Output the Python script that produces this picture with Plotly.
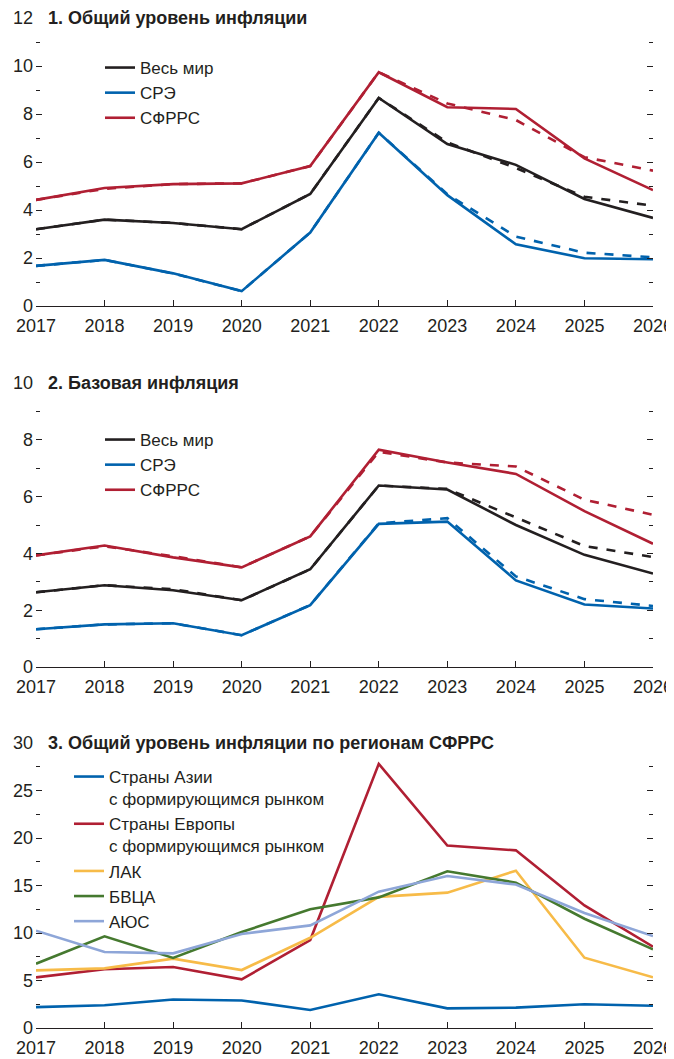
import plotly.graph_objects as go

years = list(range(2017, 2027))

# Panel 1: headline inflation
p1_world = [3.2, 3.6, 3.46, 3.2, 4.67, 8.67, 6.75, 5.88, 4.46, 3.67]
p1_world_prev = [3.2, 3.6, 3.46, 3.2, 4.67, 8.67, 6.82, 5.75, 4.55, 4.18]
p1_ae = [1.67, 1.92, 1.36, 0.62, 3.06, 7.22, 4.62, 2.57, 1.99, 1.95]
p1_ae_prev = [1.67, 1.92, 1.36, 0.62, 3.06, 7.22, 4.66, 2.89, 2.22, 2.03]
p1_em = [4.42, 4.92, 5.08, 5.11, 5.83, 9.74, 8.28, 8.21, 6.15, 4.83]
p1_em_prev = [4.42, 4.88, 5.08, 5.11, 5.83, 9.74, 8.44, 7.75, 6.2, 5.64]

# Panel 2: core inflation
p2_world = [2.63, 2.88, 2.70, 2.35, 3.44, 6.39, 6.25, 5.0, 3.95, 3.29]
p2_world_prev = [2.63, 2.88, 2.74, 2.35, 3.44, 6.39, 6.27, 5.27, 4.26, 3.87]
p2_ae = [1.33, 1.5, 1.54, 1.12, 2.18, 5.04, 5.12, 3.05, 2.2, 2.06]
p2_ae_prev = [1.33, 1.5, 1.54, 1.12, 2.18, 5.06, 5.24, 3.19, 2.39, 2.15]
p2_em = [3.93, 4.28, 3.86, 3.51, 4.6, 7.65, 7.2, 6.8, 5.49, 4.34]
p2_em_prev = [3.93, 4.25, 3.9, 3.51, 4.6, 7.58, 7.2, 7.06, 5.89, 5.36]

# Panel 3: headline inflation by EMDE region
p3_asia = [2.2, 2.4, 3.0, 2.9, 1.9, 3.55, 2.07, 2.14, 2.5, 2.35]
p3_europe = [5.33, 6.18, 6.42, 5.12, 9.26, 27.8, 19.2, 18.7, 12.9, 8.56]
p3_lac = [6.07, 6.28, 7.3, 6.1, 9.5, 13.8, 14.25, 16.56, 7.4, 5.33]
p3_mena = [6.77, 9.65, 7.37, 10.1, 12.5, 13.75, 16.5, 15.3, 11.5, 8.28]
p3_ssa = [10.25, 8.0, 7.86, 9.9, 10.8, 14.35, 16.0, 15.1, 12.1, 9.68]

titles = ["1. Общий уровень инфляции", "2. Базовая инфляция",
          "3. Общий уровень инфляции по регионам СФРРС"]
names_123 = ["Весь мир", "СРЭ", "СФРРС"]
names_3 = ["Страны Азии<br>с формирующимся рынком",
           "Страны Европы<br>с формирующимся рынком", "ЛАК", "БВЦА", "АЮС"]

BLACK = "#231f20"
BLUE = "#0062ad"
RED = "#b01f33"
YELLOW = "#f7bb48"
GREEN = "#45792f"
LBLUE = "#8ea6d8"
FONT = "Liberation Sans Narrow, Arial Narrow, Liberation Sans, Arial, sans-serif"
LW = 2.6

fig = go.Figure()

def add_panel(idx, series, prevs, names, colors, legend):
    xa = "x" if idx == 1 else f"x{idx}"
    ya = "y" if idx == 1 else f"y{idx}"
    if prevs:
        for p, c in zip(prevs, colors):
            fig.add_trace(go.Scatter(x=years, y=p, mode="lines", xaxis=xa, yaxis=ya,
                                     line=dict(color=c, width=LW, dash="dash"),
                                     showlegend=False, hoverinfo="skip"))
    for s, c, n in zip(series, colors, names):
        fig.add_trace(go.Scatter(x=years, y=s, mode="lines", xaxis=xa, yaxis=ya,
                                 name=n, line=dict(color=c, width=LW),
                                 legend=legend))

add_panel(1, [p1_world, p1_ae, p1_em], [p1_world_prev, p1_ae_prev, p1_em_prev],
          names_123, [BLACK, BLUE, RED], "legend")
add_panel(2, [p2_world, p2_ae, p2_em], [p2_world_prev, p2_ae_prev, p2_em_prev],
          names_123, [BLACK, BLUE, RED], "legend2")
add_panel(3, [p3_asia, p3_europe, p3_lac, p3_mena, p3_ssa], None,
          names_3, [BLUE, RED, YELLOW, GREEN, LBLUE], "legend3")

# layout geometry: page pixels are figure pixels + 8 (body margin)
OFF = 8
W, H = 674, 1059
P_LEFT, P_RIGHT, P_TOP, P_BOTTOM = 36, 653, 18, 1028   # page coords of plot area
ML = P_LEFT - OFF
MT = P_TOP - OFF
MR = W - (P_RIGHT - OFF)
MB = H - (P_BOTTOM - OFF)
PH = P_BOTTOM - P_TOP
PW = P_RIGHT - P_LEFT

def fy(px):
    return (P_BOTTOM - px) / PH

def fx(px):
    return (px - P_LEFT) / PW

domains = [(fy(306), fy(18)), (fy(667), fy(383)), (fy(1028), fy(743))]
ranges = [(0, 12), (0, 10), (0, 30)]
dticks = [2, 2, 5]
minors = [1, 1, 2.5]

tickfont = dict(family=FONT, size=18, color=BLACK)
layout = dict(
    width=W, height=H, margin=dict(l=ML, r=MR, t=MT, b=MB, autoexpand=False),
    paper_bgcolor="white", plot_bgcolor="white",
    font=dict(family=FONT, size=18, color=BLACK),
)
for i in range(3):
    n = i + 1
    xk = "xaxis" if n == 1 else f"xaxis{n}"
    yk = "yaxis" if n == 1 else f"yaxis{n}"
    yname = "y" if n == 1 else f"y{n}"
    xname = "x" if n == 1 else f"x{n}"
    layout[xk] = dict(domain=[0, 1], anchor=yname, range=[2017, 2026],
                      tickmode="array", tickvals=years, ticktext=[str(y) for y in years],
                      ticks="inside", ticklen=6, tickcolor=BLACK, tickwidth=1,
                      showline=True, linecolor=BLACK, linewidth=1.2,
                      showgrid=False, zeroline=False, tickfont=tickfont,
                      ticklabelstandoff=3, automargin=False)
    layout[yk] = dict(domain=list(domains[i]), anchor=xname, range=list(ranges[i]),
                      dtick=dticks[i], tick0=0, ticks="inside", ticklen=6,
                      tickcolor=BLACK, tickwidth=1, showline=False, mirror="ticks",
                      showgrid=False, zeroline=False, tickfont=tickfont,
                      ticklabelstandoff=2, automargin=False,
                      minor=dict(dtick=minors[i], tick0=0, ticks="inside",
                                 ticklen=4, tickcolor=BLACK, tickwidth=1, showgrid=False))

fig.update_layout(**layout)

# titles
for i, t in enumerate(titles):
    n = i + 1
    xr = "x domain" if n == 1 else f"x{n} domain"
    yr = "y domain" if n == 1 else f"y{n} domain"
    fig.add_annotation(text=f"<b>{t}</b>", xref=xr, yref=yr, x=fx(46), y=1,
                       xanchor="left", yanchor="middle", showarrow=False,
                       font=dict(family=FONT, size=18, color=BLACK))

leg_common = dict(bgcolor="rgba(0,0,0,0)", borderwidth=0,
                  font=dict(family=FONT, size=17, color=BLACK),
                  xanchor="left", yanchor="top", tracegroupgap=0,
                  itemclick=False, itemdoubleclick=False)
fig.update_layout(
    legend=dict(x=fx(100), y=fy(50), **leg_common),
    legend2=dict(x=fx(100), y=fy(422), **leg_common),
    legend3=dict(x=fx(69), y=fy(759), valign="top", **leg_common),
)

fig.write_html("out.html")
